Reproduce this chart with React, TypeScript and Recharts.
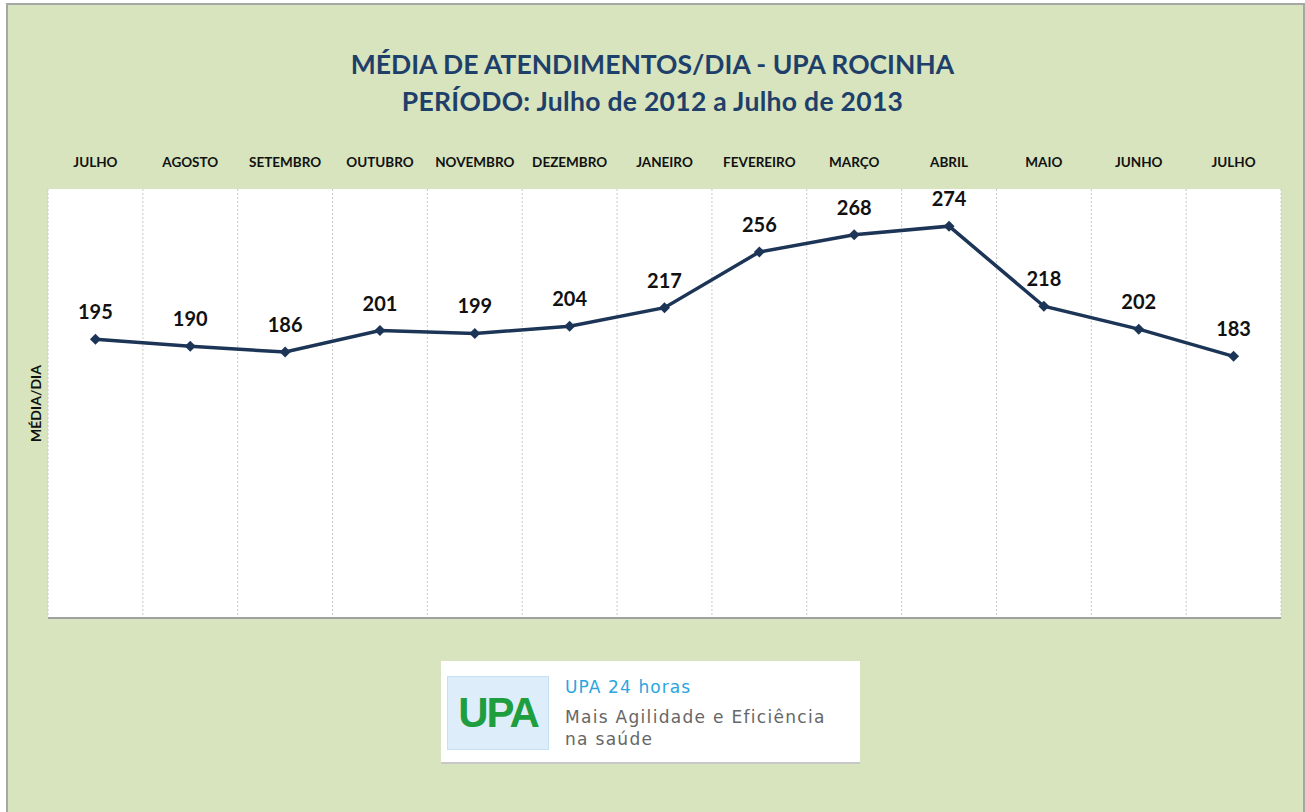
import React from 'react';
import { LineChart, Line, XAxis, YAxis, CartesianGrid, LabelList, ReferenceLine } from 'recharts';

const months = ['JULHO', 'AGOSTO', 'SETEMBRO', 'OUTUBRO', 'NOVEMBRO', 'DEZEMBRO', 'JANEIRO', 'FEVEREIRO', 'MARÇO', 'ABRIL', 'MAIO', 'JUNHO', 'JULHO'];
const mediaDia = [195, 190, 186, 201, 199, 204, 217, 256, 268, 274, 218, 202, 183];
const yDomain = [0, 300];

const data = months.map((m, i) => ({ key: `${m}-${i}`, mes: m, valor: mediaDia[i] }));

const FONT = 'Lato, "Open Sans", sans-serif';

const Diamond = (props: any) => {
  const { cx, cy } = props;
  if (cx == null || cy == null) return null;
  const r = 5.5;
  return <path d={`M${cx},${cy - r}L${cx + r},${cy}L${cx},${cy + r}L${cx - r},${cy}Z`} fill="#1C3557" stroke="none" />;
};

const MonthTick = (props: any) => {
  const { x, y, payload } = props;
  const idx = payload.index ?? 0;
  return (
    <text x={x} y={y} textAnchor="middle" fontFamily={FONT} fontWeight={700} fontSize={13.5} fill="#111">
      {months[idx]}
    </text>
  );
};

export default function App() {
  return (
    <div style={{ position: 'absolute', left: 0, top: 0, width: 1305, height: 812, background: '#fff', overflow: 'hidden' }}>
      <div style={{ position: 'absolute', left: 6, top: 3, width: 1295, height: 820, background: '#D7E4BD', border: '2px solid #A6A6A6' }} />
      <div style={{ position: 'absolute', left: 0, top: 46, width: 1305, textAlign: 'center', fontFamily: FONT, fontWeight: 700, fontSize: 26.5, color: '#1F3F6B', lineHeight: '37px' }}>
        <div>MÉDIA DE ATENDIMENTOS/DIA - UPA ROCINHA</div>
        <div style={{ letterSpacing: 0.3 }}>PERÍODO: Julho de 2012 a Julho de 2013</div>
      </div>
      <div style={{ position: 'absolute', left: 0, top: 0 }}>
        <LineChart width={1305} height={812} data={data} margin={{ top: 159, right: 24, bottom: 194, left: 0 }}>
          <CartesianGrid
            fill="#FFFFFF"
            horizontal={false}
            stroke="#C8C8C8"
            strokeDasharray="2 2"
            verticalCoordinatesGenerator={({ offset }: any) =>
              months.map((_, i) => offset.left + (offset.width * i) / months.length).concat([offset.left + offset.width])
            }
          />
          <ReferenceLine y={0} stroke="#A0A0A0" strokeWidth={2} ifOverflow="extendDomain" />
          <XAxis
            dataKey="key"
            orientation="top"
            scale="band"
            height={30}
            axisLine={false}
            tickLine={false}
            interval={0}
            tick={(p: any) => <MonthTick {...p} y={167} />}
          />
          <YAxis
            domain={yDomain}
            width={48}
            tick={false}
            axisLine={false}
            tickLine={false}
            label={{ value: 'MÉDIA/DIA', angle: -90, position: 'center', dx: 12, style: { fontFamily: FONT, fontWeight: 700, fontSize: 14, fill: '#111' } }}
          />
          <Line
            type="linear"
            dataKey="valor"
            stroke="#1C3557"
            strokeWidth={3.5}
            dot={<Diamond />}
            activeDot={false}
            isAnimationActive={false}
          >
            <LabelList dataKey="valor" position="top" offset={20} style={{ fontFamily: FONT, fontWeight: 700, fontSize: 20, fill: '#111' }} />
          </Line>
        </LineChart>
      </div>
      <div style={{ position: 'absolute', left: 441, top: 661, width: 419, height: 101, background: '#fff', borderBottom: '2px solid #C8C8C8' }}>
        <div style={{ position: 'absolute', left: 6, top: 15, width: 100, height: 72, background: '#DDEEFA', border: '1px solid #C4E0F4', display: 'flex', alignItems: 'center', justifyContent: 'center', fontFamily: '"Liberation Sans", Arial, sans-serif', fontWeight: 700, fontSize: 42, color: '#1E9E3E', letterSpacing: -2 }}>
          UPA
        </div>
        <div style={{ position: 'absolute', left: 124, top: 16, fontFamily: '"DejaVu Sans", Verdana, sans-serif', fontSize: 17, letterSpacing: 1.1, color: '#2AA6DF' }}>UPA 24 horas</div>
        <div style={{ position: 'absolute', left: 124, top: 45, fontFamily: '"DejaVu Sans", Verdana, sans-serif', fontSize: 17, letterSpacing: 1.3, color: '#666', lineHeight: '22px' }}>
          <div>Mais Agilidade e Eficiência</div>
          <div>na saúde</div>
        </div>
      </div>
    </div>
  );
}
